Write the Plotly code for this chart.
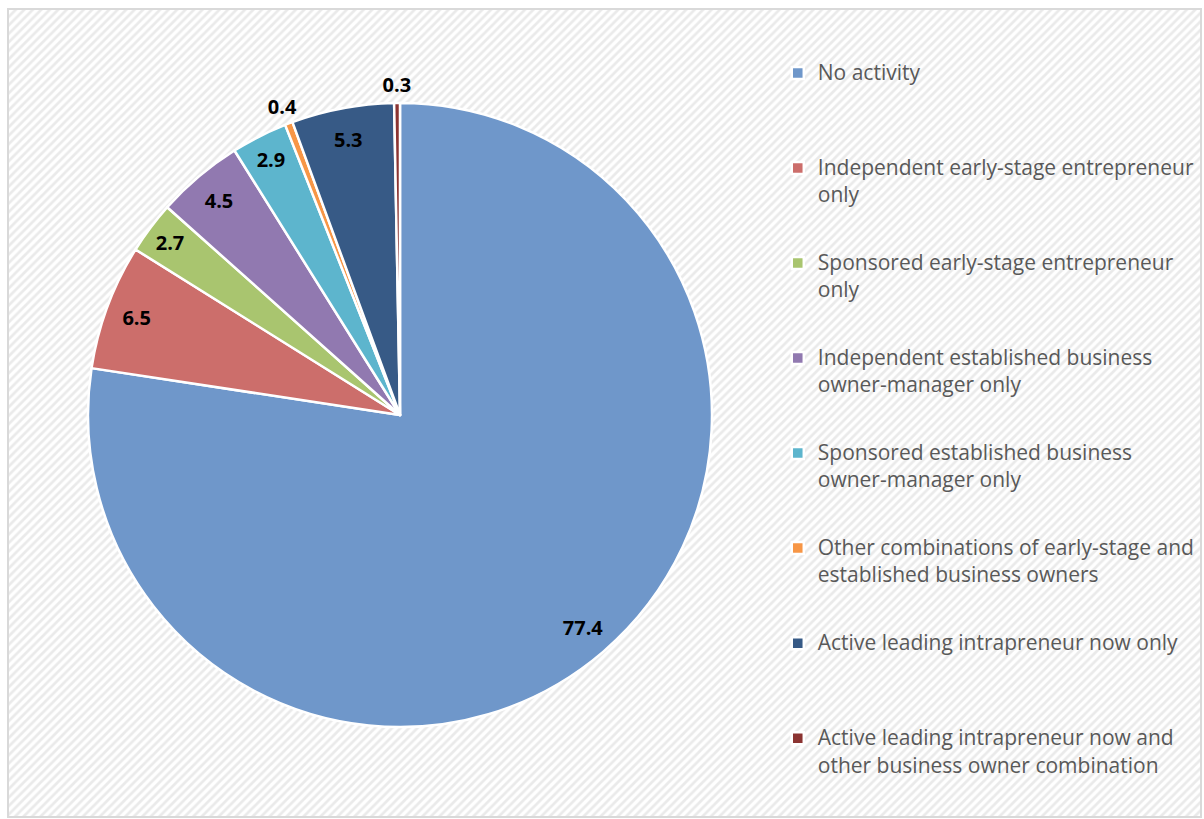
import plotly.graph_objects as go

categories = [
    "No activity",
    "Independent early-stage entrepreneur only",
    "Sponsored early-stage entrepreneur only",
    "Independent established business owner-manager only",
    "Sponsored established business owner-manager only",
    "Other combinations of early-stage and established business owners",
    "Active leading intrapreneur now only",
    "Active leading intrapreneur now and other business owner combination",
]
legend_lines = [
    ["No activity"],
    ["Independent early-stage entrepreneur", "only"],
    ["Sponsored early-stage entrepreneur", "only"],
    ["Independent established business", "owner-manager only"],
    ["Sponsored established business", "owner-manager only"],
    ["Other combinations of early-stage and", "established business owners"],
    ["Active leading intrapreneur now only"],
    ["Active leading intrapreneur now and", "other business owner combination"],
]
values = [77.4, 6.5, 2.7, 4.5, 2.9, 0.4, 5.3, 0.3]
colors = ["#6F97CA", "#CC6E6B", "#A9C56F", "#9179B0", "#5DB5CD", "#F79646", "#375A86", "#8B3432"]
outer_label = [False, False, False, False, False, True, False, True]

# legend entries: fine sub-lines so that text lines and entries get Excel-like spacing
SUB = 10      # sub-lines per entry
STEP = 3      # sub-lines between two text lines
legend_labels = []
for k, lines in enumerate(legend_lines):
    n_sub = SUB if k < len(legend_lines) - 1 else STEP + 1
    rows = [""] * n_sub
    for i, ln in enumerate(lines):
        rows[i * STEP] = "<span style='font-size:21px;baseline-shift:-4px'>" + ln + "</span>"
    legend_labels.append("<br>".join(r if r else " " for r in rows))

W, H = 1204, 819
cx, cy, R = 400, 415, 312
R_out = 334


def dom(r):
    return dict(x=[(cx - r) / W, (cx + r) / W], y=[1 - (cy + r) / H, 1 - (cy - r) / H])


label_font = dict(family="Open Sans", size=20, color="black", weight="bold")

fig = go.Figure()

# hatched chart-area background
fig.add_trace(go.Bar(
    x=[0], y=[1], width=[1], showlegend=False, hoverinfo="skip",
    marker=dict(color="white", line=dict(width=0),
                pattern=dict(shape="/", fgcolor="#d6d6d6", bgcolor="white", size=6, solidity=0.45)),
))

# the pie itself
fig.add_trace(go.Pie(
    labels=legend_labels, values=values, sort=False, direction="clockwise", rotation=0,
    marker=dict(colors=colors, line=dict(color="white", width=2.5)),
    textinfo="none", domain=dom(R), hoverinfo="value",
))

# transparent ring: value labels near the outer edge of the slices
fig.add_trace(go.Pie(
    labels=legend_labels, values=values, sort=False, direction="clockwise", rotation=0,
    hole=0.8, showlegend=False, hoverinfo="skip",
    marker=dict(colors=["rgba(0,0,0,0)"] * len(values), line=dict(width=0)),
    texttemplate=["" if o else "%{value:.1f}" for o in outer_label],
    textposition="inside", insidetextorientation="horizontal",
    insidetextfont=label_font, domain=dom(R),
))

# transparent ring just outside the pie: labels of the tiny slices
fig.add_trace(go.Pie(
    labels=legend_labels, values=values, sort=False, direction="clockwise", rotation=0,
    hole=0.9, showlegend=False, hoverinfo="skip",
    marker=dict(colors=["rgba(0,0,0,0)"] * len(values), line=dict(width=0)),
    texttemplate=["%{value:.1f}" if o else "" for o in outer_label],
    textposition="inside", insidetextorientation="horizontal",
    insidetextfont=label_font, domain=dom(R_out),
))

fig.update_layout(
    width=W, height=H,
    margin=dict(l=0, r=0, t=0, b=0),
    paper_bgcolor="white", plot_bgcolor="rgba(0,0,0,0)",
    xaxis=dict(domain=[8 / W, 1201 / W], range=[-0.5, 0.5], visible=False, fixedrange=True),
    yaxis=dict(domain=[1 - 817 / H, 1 - 9 / H], range=[0, 1], visible=False, fixedrange=True),
    bargap=0,
    uniformtext=dict(minsize=20, mode="show"),
    legend=dict(
        x=0.646, y=1 - 54 / H, xanchor="left", yanchor="top", valign="top",
        bgcolor="rgba(0,0,0,0)", borderwidth=0,
        title=dict(text=" ", font=dict(size=6)),
        font=dict(family="Open Sans", size=7.08, color="#595959"),
    ),
    shapes=[dict(type="rect", xref="paper", yref="paper",
                 x0=8 / W, x1=1201 / W, y0=1 - 817 / H, y1=1 - 9 / H,
                 line=dict(color="#d9d9d9", width=2), fillcolor="rgba(0,0,0,0)", layer="above")],
)

fig.write_html("out.html", config={"displayModeBar": False},
               post_script="document.body.style.margin='0';")
